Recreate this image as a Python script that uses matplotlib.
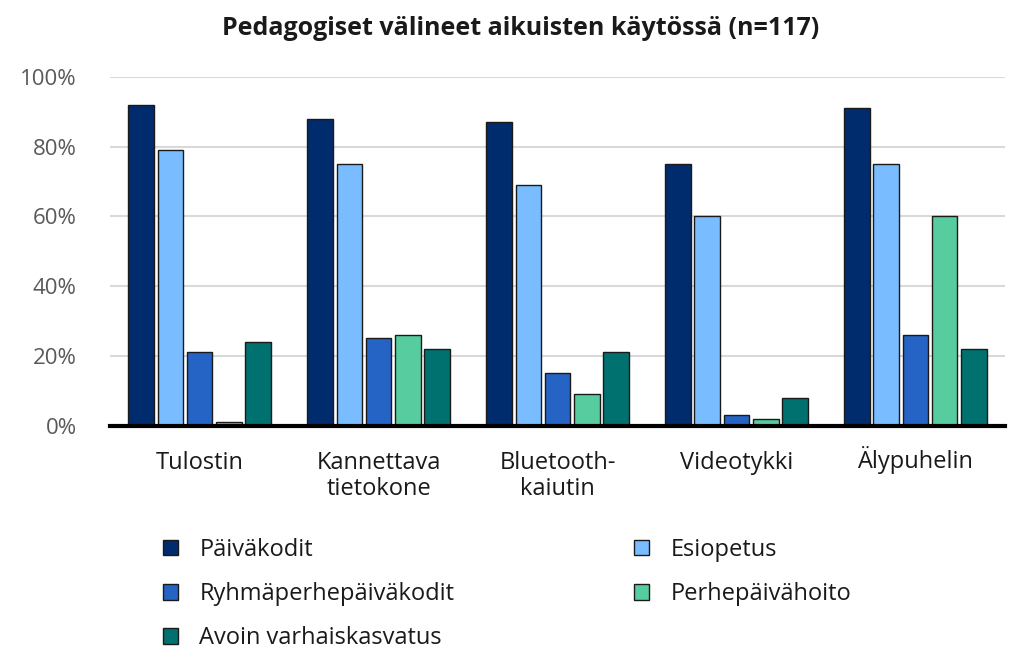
import numpy as np
import matplotlib
matplotlib.use("Agg")
import matplotlib.pyplot as plt
from matplotlib.transforms import ScaledTranslation

plt.rcParams['font.family'] = ['Open Sans', 'DejaVu Sans']

categories = ["Tulostin", "Kannettava\ntietokone", "Bluetooth-\nkaiutin", "Videotykki", "Älypuhelin"]
series = ["Päiväkodit", "Esiopetus", "Ryhmäperhepäiväkodit", "Perhepäivähoito", "Avoin varhaiskasvatus"]
paivakodit = [92, 88, 87, 75, 91]
esiopetus = [79, 75, 69, 60, 75]
ryhma = [21, 25, 15, 3, 26]
perhe = [1, 26, 9, 2, 60]
avoin = [24, 22, 21, 8, 22]
colors = ["#002B6D", "#79BCFF", "#2563C4", "#57CC9F", "#00716F"]

values = [paivakodit, esiopetus, ryhma, perhe, avoin]

fig = plt.figure(figsize=(10.1, 6.5), dpi=100)
ax = fig.add_axes([0.109, 0.345, 0.886, 0.537])

x = np.arange(len(categories))
w = 0.163
bars = []
for i, (name, vals) in enumerate(zip(series, values)):
    b = ax.bar(x + (i - 2) * w, vals, width=w * 0.88, color=colors[i],
               edgecolor="#1a1a1a", linewidth=1.0, label=name, zorder=3)
    bars.append(b)

ax.set_xlim(-0.5, len(categories) - 0.5)
ax.set_ylim(0, 100)
ax.set_yticks([0, 20, 40, 60, 80, 100])
ax.set_yticklabels(["0%", "20%", "40%", "60%", "80%", "100%"])
ax.yaxis.grid(True, color="#d9d9d9", linewidth=1.5, zorder=0)
ax.set_axisbelow(True)
for s in ["left", "right", "top"]:
    ax.spines[s].set_visible(False)
ax.spines["bottom"].set_linewidth(3)
ax.spines["bottom"].set_color("black")
ax.spines["bottom"].set_zorder(4)
ax.tick_params(axis="y", length=0, labelsize=16, labelcolor="#595959", pad=24)
ax.tick_params(axis="x", length=0, labelsize=17, labelcolor="#1a1a1a", pad=18)
ax.set_xticks(x)
ax.set_xticklabels(categories, linespacing=1.15)
# the Ä makes the label box taller; nudge it back up to the common baseline
lab = ax.get_xticklabels()[4]
lab.set_transform(lab.get_transform() + ScaledTranslation(0, 5 / 100, fig.dpi_scale_trans))

fig.suptitle("Pedagogiset välineet aikuisten käytössä (n=117)", x=0.515, y=0.975,
             fontsize=18, fontweight="bold", color="#1a1a1a")

# legend filled row by row like the original
order = [0, 2, 4, 1, 3]
ax.legend([bars[i] for i in order], [series[i] for i in order],
          loc="upper left", bbox_to_anchor=(0.035, -0.26), ncol=2, frameon=False,
          fontsize=17, handlelength=0.65, handleheight=0.65, columnspacing=7.6,
          labelspacing=0.86, handletextpad=0.9, labelcolor="#1a1a1a")

fig.savefig("out.png", dpi=100)
